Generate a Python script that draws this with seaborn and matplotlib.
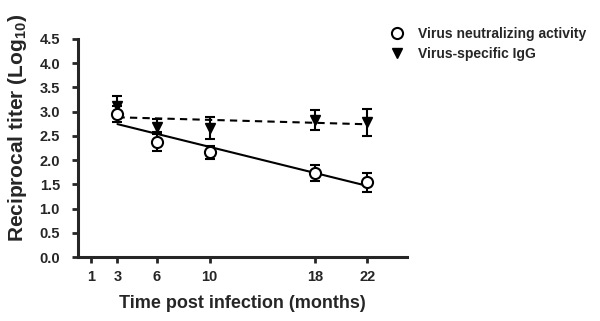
import numpy as np
import pandas as pd
import seaborn as sns
from matplotlib import pyplot as plt

# values
months = [3, 6, 10, 18, 22]
neutralizing = [2.95, 2.38, 2.16, 1.73, 1.54]
neutralizing_err = [0.17, 0.19, 0.14, 0.17, 0.20]
igg = [3.12, 2.69, 2.66, 2.83, 2.78]
igg_err = [0.20, 0.15, 0.23, 0.20, 0.28]
x_ticks = [1, 3, 6, 10, 18, 22]
y_ticks = np.arange(0, 4.51, 0.5)

df = pd.DataFrame(
    {
        "Month": months,
        "Neutralizing": neutralizing,
        "Neutralizing_err": neutralizing_err,
        "IgG": igg,
        "IgG_err": igg_err,
    }
)

sns.set_style("ticks")
plt.rcParams["font.family"] = ["Liberation Sans", "DejaVu Sans"]
plt.rcParams["font.weight"] = "bold"
plt.rcParams["mathtext.fontset"] = "custom"
plt.rcParams["mathtext.bf"] = "Liberation Sans:bold"

fig = plt.figure(figsize=(6.0, 3.21), dpi=100)
ax = fig.add_axes([0.13, 0.199, 0.548, 0.68])

# linear fits
sns.regplot(
    data=df, x="Month", y="Neutralizing", ax=ax, ci=None, scatter=False,
    truncate=True, line_kws={"color": "black", "lw": 1.5},
)
sns.regplot(
    data=df, x="Month", y="IgG", ax=ax, ci=None, scatter=False,
    truncate=True, line_kws={"color": "black", "lw": 1.5, "ls": (0, (3.5, 2.5))},
)

# points with error bars
ax.errorbar(
    df["Month"], df["IgG"], yerr=df["IgG_err"], fmt="v", color="black",
    markersize=7.5, capsize=3.5, elinewidth=1.5, capthick=1.5, zorder=3,
)
ax.errorbar(
    df["Month"], df["Neutralizing"], yerr=df["Neutralizing_err"], fmt="o",
    color="black", mfc="white", mec="black", mew=1.5, markersize=8,
    capsize=3.5, elinewidth=1.5, capthick=1.5, zorder=4,
)

ax.set_xlim(0, 25)
ax.set_ylim(0, 4.5)
ax.set_xticks(x_ticks)
ax.set_yticks(y_ticks)
ax.set_yticklabels([f"{v:.1f}" for v in y_ticks])
ax.tick_params(labelsize=10.5, width=2, length=4, direction="out")
ax.tick_params(axis="y", pad=9)
ax.tick_params(axis="x", pad=5)
for lab in ax.get_xticklabels() + ax.get_yticklabels():
    lab.set_fontweight("bold")

sns.despine(ax=ax)
for s in ["left", "bottom"]:
    ax.spines[s].set_linewidth(2.2)

ax.set_xlabel("Time post infection (months)", fontsize=13, fontweight="bold", labelpad=8)
ax.set_ylabel("Reciprocal titer (Log$_{\\mathbf{10}}$)", fontsize=15, fontweight="bold")
ax.yaxis.set_label_coords(-0.15, 0.59)

# legend
handles = [
    plt.Line2D([], [], ls="none", marker="o", mfc="white", mec="black", mew=1.5, markersize=8),
    plt.Line2D([], [], ls="none", marker="v", color="black", markersize=7.5),
]
fig.legend(
    handles, ["Virus neutralizing activity", "Virus-specific IgG"],
    loc="upper left", bbox_to_anchor=(0.63, 0.955), frameon=False,
    prop={"size": 10, "weight": "bold"}, handlelength=1.0, handletextpad=1.0,
    labelspacing=0.45,
)

fig.savefig("out.png", dpi=100)
